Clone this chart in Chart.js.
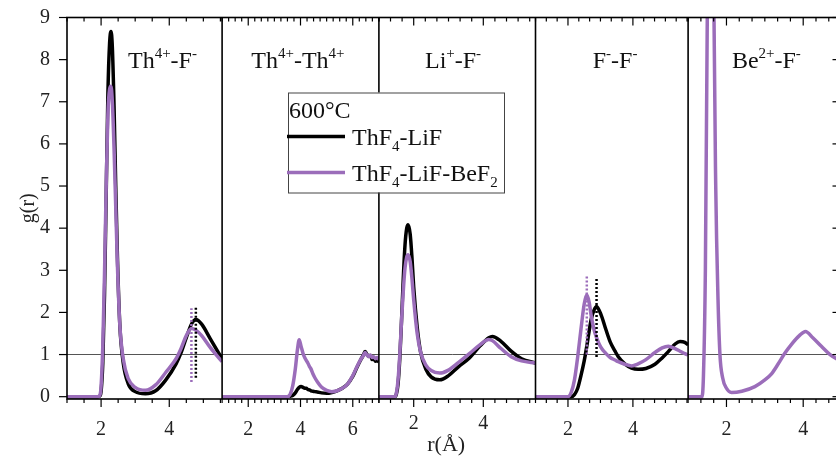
<!DOCTYPE html>
<html lang="en">
<head>
<meta charset="UTF-8">
<title>g(r) – ThF4-LiF vs ThF4-LiF-BeF2, 600°C</title>
<style>
  html, body { margin: 0; padding: 0; background: #fff; overflow: hidden; }
  #wrap { position: relative; width: 840px; height: 458px; }
</style>
<script src="https://cdn.jsdelivr.net/npm/chart.js"></script>
</head>
<body>
<div id="wrap"><canvas id="gr"></canvas></div>
<script>
// ---- values ----
const tempLabel = '600°C';
const seriesNames = ['ThF_{4}-LiF', 'ThF_{4}-LiF-BeF_{2}'];
const pairNames = ['Th^{4+}-F^{-}', 'Th^{4+}-Th^{4+}', 'Li^{+}-F^{-}', 'F^{-}-F^{-}', 'Be^{2+}-F^{-}'];
const tickLabels = [[2, 4], [2, 4, 6], [2, 4], [2, 4], [2, 4]];
const yTickLabels = [0, 1, 2, 3, 4, 5, 6, 7, 8, 9];

// Th4+-F-
const thF_r     = [1.0, 1.9, 1.97, 2.0, 2.05, 2.1, 2.15, 2.2, 2.25, 2.29, 2.33, 2.38, 2.43, 2.48, 2.55, 2.65, 2.8, 3.0, 3.3, 3.6, 3.9, 4.2, 4.35, 4.5, 4.65, 4.78, 4.95, 5.2, 5.55];
const thF_LiF   = [0, 0, 0.02, 0.12, 0.8, 2.4, 4.8, 7.2, 8.4, 8.67, 8.3, 6.9, 5.0, 3.3, 1.7, 0.8, 0.3, 0.12, 0.07, 0.14, 0.4, 0.78, 1.05, 1.4, 1.72, 1.83, 1.72, 1.38, 0.9];
const thF_BeF2  = [0, 0, 0.05, 0.25, 1.2, 2.9, 5.0, 6.7, 7.3, 7.37, 7.0, 5.9, 4.5, 3.1, 1.7, 0.9, 0.42, 0.22, 0.15, 0.28, 0.58, 0.9, 1.15, 1.45, 1.62, 1.58, 1.45, 1.17, 0.83];

// Th4+-Th4+ (noisy curves)
const thTh_r    = [1.0, 3.5, 3.6, 3.7, 3.8, 3.88, 3.95, 4.02, 4.1, 4.16, 4.22, 4.28, 4.34, 4.4, 4.47, 4.55, 4.65, 4.8, 5.0, 5.2, 5.4, 5.6, 5.8, 6.0, 6.15, 6.3, 6.4, 6.47, 6.53, 6.6, 6.67, 6.74, 6.8, 6.87, 6.94, 7.0];
const thTh_LiF  = [0, 0, 0.01, 0.03, 0.09, 0.17, 0.22, 0.24, 0.22, 0.2, 0.2, 0.17, 0.16, 0.14, 0.13, 0.12, 0.11, 0.09, 0.08, 0.1, 0.14, 0.2, 0.3, 0.48, 0.68, 0.87, 0.98, 1.07, 1.02, 0.96, 0.98, 0.88, 0.9, 0.84, 0.87, 0.82];
const thTh_BeF2 = [0, 0, 0.05, 0.25, 0.65, 1.1, 1.35, 1.2, 1.02, 0.93, 0.86, 0.8, 0.72, 0.66, 0.55, 0.45, 0.35, 0.23, 0.15, 0.12, 0.14, 0.2, 0.3, 0.5, 0.7, 0.88, 0.97, 1.05, 1.0, 0.95, 0.99, 0.93, 0.95, 0.9, 0.93, 0.88];

// Li+-F-
const liF_r     = [1.0, 1.45, 1.5, 1.55, 1.6, 1.65, 1.7, 1.75, 1.8, 1.84, 1.9, 1.95, 2.0, 2.1, 2.2, 2.35, 2.5, 2.75, 3.0, 3.3, 3.6, 3.9, 4.16, 4.26, 4.5, 4.8, 5.1, 5.5];
const liF_LiF   = [0, 0, 0.05, 0.3, 0.9, 1.8, 2.8, 3.6, 4.0, 4.08, 3.85, 3.3, 2.6, 1.65, 1.05, 0.65, 0.47, 0.4, 0.5, 0.72, 0.92, 1.2, 1.4, 1.43, 1.32, 1.08, 0.9, 0.8];
const liF_BeF2  = [0, 0, 0.08, 0.4, 1.0, 1.8, 2.5, 3.05, 3.32, 3.37, 3.2, 2.8, 2.3, 1.5, 1.05, 0.75, 0.62, 0.56, 0.63, 0.82, 1.02, 1.23, 1.36, 1.33, 1.15, 0.95, 0.85, 0.8];

// F--F-
const ff_r      = [1.0, 2.0, 2.1, 2.2, 2.3, 2.4, 2.5, 2.58, 2.65, 2.72, 2.8, 2.88, 2.96, 3.05, 3.14, 3.3, 3.45, 3.55, 3.75, 3.96, 4.16, 4.4, 4.68, 4.9, 5.09, 5.3, 5.45, 5.6, 5.7];
const ff_LiF    = [0, 0, 0, 0.05, 0.2, 0.5, 0.85, 1.2, 1.55, 1.85, 2.05, 2.14, 2.05, 1.88, 1.66, 1.3, 1.08, 0.95, 0.78, 0.68, 0.65, 0.67, 0.77, 0.92, 1.07, 1.25, 1.31, 1.29, 1.23];
const ff_BeF2   = [0, 0, 0.1, 0.4, 0.95, 1.6, 2.2, 2.42, 2.25, 1.9, 1.6, 1.4, 1.25, 1.13, 1.05, 0.93, 0.87, 0.83, 0.77, 0.73, 0.78, 0.88, 1.05, 1.16, 1.2, 1.14, 1.08, 1.02, 0.99];

// Be2+-F- (only the BeF2 melt)
const beF_r     = [1.0, 1.36, 1.4, 1.45, 1.5, 1.55, 1.59, 1.63, 1.67, 1.72, 1.78, 1.83, 1.9, 2.0, 2.13, 2.4, 2.74, 3.0, 3.18, 3.35, 3.52, 3.7, 3.9, 4.06, 4.25, 4.48, 4.7, 4.92];
const beF_BeF2  = [0, 0, 0.5, 3, 9, 18, 22, 18, 9.5, 5, 2.3, 1.0, 0.45, 0.2, 0.1, 0.13, 0.24, 0.4, 0.55, 0.78, 1.03, 1.25, 1.45, 1.55, 1.4, 1.19, 1.0, 0.87];

// dotted markers at the peaks: [r, g from, g to]
const thF_markLiF  = [4.78, 0.45, 2.11];
const thF_markBeF2 = [4.65, 0.35, 2.1];
const ff_markLiF   = [2.88, 0.94, 2.81];
const ff_markBeF2  = [2.58, 1.0, 2.85];

// ---- chart ----
const BLACK = '#000000';
const PURPLE = '#9b6dba';
const SERIF = '"Liberation Serif", "Times New Roman", serif';

const panels = [
  { id: 'p1', r: thF_r,  a: thF_LiF,  b: thF_BeF2,  min: 1, max: 5.55, step: 0.5,  weight: 155,   labelAt: 3.8,  pad: 11 },
  { id: 'p2', r: thTh_r, a: thTh_LiF, b: thTh_BeF2, min: 1, max: 7,    step: 0.25, weight: 156.7, labelAt: 3.9,  pad: 11 },
  { id: 'p3', r: liF_r,  a: liF_LiF,  b: liF_BeF2,  min: 1, max: 5.5,  step: 1/3,  weight: 156.5, labelAt: 3.13, pad: 5 },
  { id: 'p4', r: ff_r,   a: ff_LiF,   b: ff_BeF2,   min: 1, max: 5.7,  step: 1/3,  weight: 152.5, labelAt: 3.45, pad: 11 },
  { id: 'p5', r: beF_r,  a: null,     b: beF_BeF2,  min: 1, max: 4.92, step: 1/3,  weight: 150.3, labelAt: 3.04, pad: 11 }
];
const marks = [
  { id: 'p1', m: thF_markLiF, color: BLACK }, { id: 'p1', m: thF_markBeF2, color: PURPLE },
  { id: 'p4', m: ff_markLiF, color: BLACK },  { id: 'p4', m: ff_markBeF2, color: PURPLE }
];

const zip = (xs, ys) => xs.map((x, i) => ({ x: x, y: ys[i] }));
const near = (a, b) => Math.abs(a - b) < 1e-6;
const noPad = s => { s.paddingLeft = 0; s.paddingRight = 0; s.paddingTop = 0; s.paddingBottom = 0; };

const datasets = [];
panels.forEach(p => {
  if (p.a) datasets.push({ label: seriesNames[0], xAxisID: p.id, yAxisID: 'y', data: zip(p.r, p.a),
    borderColor: BLACK, borderWidth: 3.5, order: 2 });
  datasets.push({ label: seriesNames[1], xAxisID: p.id, yAxisID: 'y', data: zip(p.r, p.b),
    borderColor: PURPLE, borderWidth: 3.5, order: 1 });
});
marks.forEach(k => {
  datasets.push({ label: 'peak', xAxisID: k.id, yAxisID: 'y',
    data: [{ x: k.m[0], y: k.m[1] }, { x: k.m[0], y: k.m[2] }],
    borderColor: k.color, borderWidth: 2.5, borderDash: [2, 2], order: 0, cubicInterpolationMode: 'default', tension: 0 });
});

const scales = {
  y: {
    type: 'linear', position: 'left', min: -0.055, max: 9,
    afterFit: s => { s.width = 67; noPad(s); },
    border: { display: false },
    grid: { drawTicks: false, lineWidth: 1, color: c => (c.tick && near(c.tick.value, 1)) ? '#555' : 'rgba(0,0,0,0)' },
    ticks: { stepSize: 0.5, includeBounds: false, padding: 17, color: '#222',
      font: { family: SERIF, size: 20 },
      callback: v => yTickLabels.some(l => near(l, v)) ? String(Math.round(v)) : '' },
    title: { display: true, text: 'g(r)', color: '#222', font: { family: SERIF, size: 20 }, padding: { top: 17, bottom: 0 } }
  }
};
panels.forEach((p, i) => {
  scales[p.id] = {
    type: 'linear', position: 'bottom', stack: 'panels', stackWeight: p.weight,
    min: p.min, max: p.max,
    afterFit: s => { s.height = 59; noPad(s); },
    border: { display: false },
    grid: { display: false },
    ticks: { stepSize: p.step, includeBounds: false, autoSkip: false, maxRotation: 0, padding: p.pad, color: '#222',
      font: { family: SERIF, size: 20 },
      callback: v => tickLabels[i].some(l => near(l, v)) ? String(Math.round(v)) : '' },
    // trailing en spaces nudge the centred title a little to the left, as in the figure
    title: { display: i === 2, text: 'r(Å)\u2002\u2002', color: '#222', font: { family: SERIF, size: 22 }, padding: { top: 0, bottom: 0 } }
  };
});

// rich text with ^{sup} and _{sub}
function parseRich(str) {
  const parts = [];
  const re = /([_^])\{([^}]*)\}/g;
  let last = 0, m;
  while ((m = re.exec(str))) {
    if (m.index > last) parts.push({ t: str.slice(last, m.index), k: '' });
    parts.push({ t: m[2], k: m[1] });
    last = re.lastIndex;
  }
  if (last < str.length) parts.push({ t: str.slice(last), k: '' });
  return parts;
}
function drawRich(ctx, str, x, y, size, center) {
  const parts = parseRich(str);
  const small = Math.round(size * 0.64);
  let w = 0;
  parts.forEach(p => {
    ctx.font = (p.k ? small : size) + 'px ' + SERIF;
    p.w = ctx.measureText(p.t).width;
    w += p.w;
  });
  let cx = center ? x - w / 2 : x;
  ctx.textAlign = 'left';
  ctx.textBaseline = 'alphabetic';
  parts.forEach(p => {
    ctx.font = (p.k ? small : size) + 'px ' + SERIF;
    const dy = p.k === '^' ? -size * 0.4 : (p.k === '_' ? size * 0.25 : 0);
    ctx.fillText(p.t, cx, y + dy);
    cx += p.w;
  });
}

const framePlugin = {
  id: 'frame',
  afterDatasetsDraw(chart) {
    const { ctx, chartArea: a } = chart;
    const line = (x1, y1, x2, y2) => { ctx.beginPath(); ctx.moveTo(x1, y1); ctx.lineTo(x2, y2); ctx.stroke(); };
    ctx.save();
    ctx.strokeStyle = '#000';
    ctx.lineWidth = 1.2;
    panels.forEach((p, i) => {
      const s = chart.scales[p.id];
      s.ticks.forEach(t => {
        const px = s.getPixelForValue(t.value);
        const len = tickLabels[i].some(l => near(l, t.value)) ? 8 : 4;
        line(px, a.bottom, px, a.bottom + len);
        line(px, a.top, px, a.top + len);
      });
    });
    const y = chart.scales.y;
    y.ticks.forEach(t => {
      const py = y.getPixelForValue(t.value);
      const major = yTickLabels.some(l => near(l, t.value));
      line(a.left - (major ? 8 : 5), py, a.left, py);
      if (major) line(a.right - 6, py, a.right, py);
    });
    ctx.lineWidth = 1.6;
    ctx.strokeRect(a.left, a.top, a.right - a.left, a.bottom - a.top);
    panels.forEach((p, i) => {
      if (i === 0) return;
      const s = chart.scales[p.id];
      line(s.left, a.top, s.left, a.bottom);
    });
    // pair labels
    ctx.fillStyle = '#111';
    panels.forEach((p, i) => {
      const s = chart.scales[p.id];
      drawRich(ctx, pairNames[i], s.getPixelForValue(p.labelAt), a.top + 50, 24, true);
    });
    // legend box
    const lx = a.left + 221, ly = a.top + 75, lw = 216, lh = 100;
    ctx.fillStyle = '#fff';
    ctx.fillRect(lx, ly, lw, lh);
    ctx.strokeStyle = '#444';
    ctx.lineWidth = 1;
    ctx.strokeRect(lx + 0.5, ly + 0.5, lw, lh);
    ctx.fillStyle = '#111';
    drawRich(ctx, tempLabel, lx + 1, ly + 25, 24, false);
    [BLACK, PURPLE].forEach((c, i) => {
      const yy = ly + 44 + i * 36;
      ctx.strokeStyle = c;
      ctx.lineWidth = 3.5;
      line(lx - 1, yy, lx + 57, yy);
      ctx.fillStyle = '#111';
      drawRich(ctx, seriesNames[i], lx + 64, yy + 8, 24, false);
    });
    ctx.restore();
  }
};

new Chart(document.getElementById('gr'), {
  type: 'line',
  data: { datasets: datasets },
  options: {
    responsive: true,
    maintainAspectRatio: false,
    animation: false,
    devicePixelRatio: 1,
    layout: { padding: { top: 17.5, right: 1.5, bottom: 0, left: 0 } },
    elements: { point: { radius: 0 }, line: { cubicInterpolationMode: 'monotone', fill: false } },
    plugins: { legend: { display: false }, tooltip: { enabled: false } },
    scales: scales
  },
  plugins: [framePlugin]
});
</script>
</body>
</html>
